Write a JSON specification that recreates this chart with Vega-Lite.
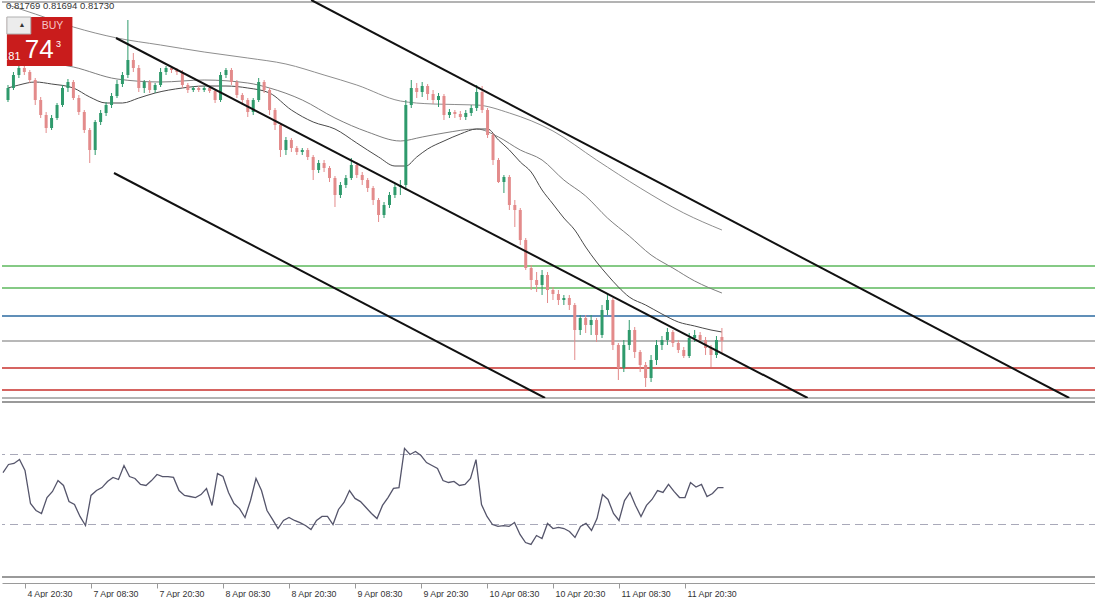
{
  "$schema": "https://vega.github.io/schema/vega-lite/v6.json",
  "padding": 0,
  "spacing": 2,
  "background": "white",
  "config": {"view": {"stroke": null}, "font": "Liberation Sans"},
  "datasets": {
    "candles": [
      {"t":-4,"o":0.82453,"h":0.82498,"l":0.82447,"c":0.82489},
      {"t":-3,"o":0.82489,"h":0.82537,"l":0.82483,"c":0.82528},
      {"t":-2,"o":0.82528,"h":0.82558,"l":0.82519,"c":0.82549},
      {"t":-1,"o":0.82549,"h":0.82555,"l":0.82528,"c":0.82537},
      {"t":0,"o":0.82537,"h":0.82543,"l":0.82504,"c":0.82513},
      {"t":1,"o":0.82513,"h":0.82519,"l":0.82438,"c":0.82453},
      {"t":2,"o":0.82453,"h":0.82462,"l":0.82399,"c":0.82408},
      {"t":3,"o":0.82408,"h":0.82417,"l":0.82354,"c":0.82369},
      {"t":4,"o":0.82369,"h":0.82408,"l":0.82363,"c":0.82399},
      {"t":5,"o":0.82399,"h":0.82444,"l":0.82393,"c":0.82438},
      {"t":6,"o":0.82438,"h":0.82498,"l":0.82432,"c":0.82489},
      {"t":7,"o":0.82489,"h":0.82516,"l":0.82477,"c":0.82507},
      {"t":8,"o":0.82507,"h":0.82513,"l":0.82453,"c":0.82459},
      {"t":9,"o":0.82459,"h":0.82468,"l":0.82408,"c":0.82417},
      {"t":10,"o":0.82417,"h":0.82423,"l":0.82354,"c":0.82363},
      {"t":11,"o":0.82363,"h":0.82369,"l":0.82264,"c":0.82303},
      {"t":12,"o":0.82303,"h":0.82393,"l":0.82288,"c":0.82387},
      {"t":13,"o":0.82387,"h":0.82423,"l":0.82378,"c":0.82414},
      {"t":14,"o":0.82414,"h":0.82447,"l":0.82405,"c":0.82438},
      {"t":15,"o":0.82438,"h":0.82474,"l":0.82429,"c":0.82465},
      {"t":16,"o":0.82465,"h":0.82513,"l":0.82459,"c":0.82501},
      {"t":17,"o":0.82501,"h":0.82537,"l":0.82492,"c":0.82528},
      {"t":18,"o":0.82528,"h":0.82693,"l":0.82519,"c":0.82573},
      {"t":19,"o":0.82573,"h":0.82594,"l":0.82537,"c":0.82549},
      {"t":20,"o":0.82549,"h":0.82558,"l":0.82477,"c":0.82489},
      {"t":21,"o":0.82489,"h":0.82513,"l":0.82474,"c":0.82507},
      {"t":22,"o":0.82507,"h":0.82513,"l":0.82474,"c":0.82483},
      {"t":23,"o":0.82483,"h":0.82504,"l":0.82474,"c":0.82498},
      {"t":24,"o":0.82498,"h":0.82549,"l":0.82492,"c":0.82537},
      {"t":25,"o":0.82537,"h":0.82555,"l":0.82528,"c":0.82549},
      {"t":26,"o":0.82549,"h":0.82555,"l":0.82534,"c":0.82543},
      {"t":27,"o":0.82543,"h":0.82549,"l":0.82528,"c":0.82537},
      {"t":28,"o":0.82537,"h":0.82543,"l":0.82489,"c":0.82498},
      {"t":29,"o":0.82498,"h":0.82504,"l":0.82474,"c":0.82483},
      {"t":30,"o":0.82483,"h":0.82495,"l":0.82477,"c":0.82489},
      {"t":31,"o":0.82489,"h":0.82495,"l":0.82477,"c":0.82483},
      {"t":32,"o":0.82483,"h":0.82495,"l":0.82477,"c":0.82489},
      {"t":33,"o":0.82489,"h":0.82495,"l":0.82474,"c":0.82480},
      {"t":34,"o":0.82480,"h":0.82486,"l":0.82444,"c":0.82453},
      {"t":35,"o":0.82453,"h":0.82537,"l":0.82447,"c":0.82528},
      {"t":36,"o":0.82528,"h":0.82549,"l":0.82519,"c":0.82543},
      {"t":37,"o":0.82543,"h":0.82549,"l":0.82498,"c":0.82507},
      {"t":38,"o":0.82507,"h":0.82513,"l":0.82459,"c":0.82468},
      {"t":39,"o":0.82468,"h":0.82474,"l":0.82438,"c":0.82453},
      {"t":40,"o":0.82453,"h":0.82459,"l":0.82402,"c":0.82417},
      {"t":41,"o":0.82417,"h":0.82459,"l":0.82408,"c":0.82453},
      {"t":42,"o":0.82453,"h":0.82519,"l":0.82447,"c":0.82507},
      {"t":43,"o":0.82507,"h":0.82513,"l":0.82474,"c":0.82483},
      {"t":44,"o":0.82483,"h":0.82489,"l":0.82408,"c":0.82423},
      {"t":45,"o":0.82423,"h":0.82429,"l":0.82363,"c":0.82378},
      {"t":46,"o":0.82378,"h":0.82384,"l":0.82282,"c":0.82303},
      {"t":47,"o":0.82303,"h":0.82342,"l":0.82288,"c":0.82333},
      {"t":48,"o":0.82333,"h":0.82339,"l":0.82297,"c":0.82309},
      {"t":49,"o":0.82309,"h":0.82315,"l":0.82288,"c":0.82297},
      {"t":50,"o":0.82297,"h":0.82309,"l":0.82288,"c":0.82303},
      {"t":51,"o":0.82303,"h":0.82309,"l":0.82273,"c":0.82282},
      {"t":52,"o":0.82282,"h":0.82288,"l":0.82213,"c":0.82243},
      {"t":53,"o":0.82243,"h":0.82273,"l":0.82234,"c":0.82264},
      {"t":54,"o":0.82264,"h":0.82273,"l":0.82237,"c":0.82249},
      {"t":55,"o":0.82249,"h":0.82255,"l":0.82207,"c":0.82219},
      {"t":56,"o":0.82219,"h":0.82225,"l":0.82132,"c":0.82168},
      {"t":57,"o":0.82168,"h":0.82207,"l":0.82159,"c":0.82198},
      {"t":58,"o":0.82198,"h":0.82228,"l":0.82189,"c":0.82219},
      {"t":59,"o":0.82219,"h":0.82279,"l":0.82213,"c":0.82258},
      {"t":60,"o":0.82258,"h":0.82267,"l":0.82219,"c":0.82228},
      {"t":61,"o":0.82228,"h":0.82237,"l":0.82198,"c":0.82213},
      {"t":62,"o":0.82213,"h":0.82219,"l":0.82177,"c":0.82189},
      {"t":63,"o":0.82189,"h":0.82195,"l":0.82138,"c":0.82153},
      {"t":64,"o":0.82153,"h":0.82159,"l":0.82087,"c":0.82108},
      {"t":65,"o":0.82108,"h":0.82147,"l":0.82099,"c":0.82138},
      {"t":66,"o":0.82138,"h":0.82177,"l":0.82129,"c":0.82168},
      {"t":67,"o":0.82168,"h":0.82201,"l":0.82159,"c":0.82192},
      {"t":68,"o":0.82192,"h":0.82213,"l":0.82168,"c":0.82198},
      {"t":69,"o":0.82198,"h":0.82453,"l":0.82183,"c":0.82438},
      {"t":70,"o":0.82438,"h":0.82513,"l":0.82429,"c":0.82489},
      {"t":71,"o":0.82489,"h":0.82504,"l":0.82459,"c":0.82477},
      {"t":72,"o":0.82477,"h":0.82507,"l":0.82462,"c":0.82495},
      {"t":73,"o":0.82495,"h":0.82501,"l":0.82453,"c":0.82471},
      {"t":74,"o":0.82471,"h":0.82483,"l":0.82441,"c":0.82453},
      {"t":75,"o":0.82453,"h":0.82474,"l":0.82432,"c":0.82465},
      {"t":76,"o":0.82465,"h":0.82471,"l":0.82393,"c":0.82408},
      {"t":77,"o":0.82408,"h":0.82426,"l":0.82399,"c":0.82417},
      {"t":78,"o":0.82417,"h":0.82423,"l":0.82399,"c":0.82411},
      {"t":79,"o":0.82411,"h":0.82420,"l":0.82393,"c":0.82402},
      {"t":80,"o":0.82402,"h":0.82423,"l":0.82393,"c":0.82414},
      {"t":81,"o":0.82414,"h":0.82438,"l":0.82405,"c":0.82429},
      {"t":82,"o":0.82429,"h":0.82498,"l":0.82420,"c":0.82477},
      {"t":83,"o":0.82477,"h":0.82495,"l":0.82414,"c":0.82423},
      {"t":84,"o":0.82423,"h":0.82429,"l":0.82339,"c":0.82348},
      {"t":85,"o":0.82348,"h":0.82354,"l":0.82258,"c":0.82273},
      {"t":86,"o":0.82273,"h":0.82279,"l":0.82204,"c":0.82207},
      {"t":87,"o":0.82207,"h":0.82228,"l":0.82174,"c":0.82222},
      {"t":88,"o":0.82222,"h":0.82228,"l":0.82123,"c":0.82138},
      {"t":89,"o":0.82138,"h":0.82153,"l":0.82072,"c":0.82123},
      {"t":90,"o":0.82123,"h":0.82129,"l":0.82018,"c":0.82033},
      {"t":91,"o":0.82033,"h":0.82039,"l":0.81943,"c":0.81949},
      {"t":92,"o":0.81949,"h":0.81958,"l":0.81883,"c":0.81913},
      {"t":93,"o":0.81913,"h":0.81937,"l":0.81877,"c":0.81898},
      {"t":94,"o":0.81898,"h":0.81943,"l":0.81868,"c":0.81928},
      {"t":95,"o":0.81928,"h":0.81937,"l":0.81844,"c":0.81883},
      {"t":96,"o":0.81883,"h":0.81892,"l":0.81853,"c":0.81871},
      {"t":97,"o":0.81871,"h":0.81883,"l":0.81838,"c":0.81853},
      {"t":98,"o":0.81853,"h":0.81868,"l":0.81838,"c":0.81859},
      {"t":99,"o":0.81859,"h":0.81868,"l":0.81823,"c":0.81838},
      {"t":100,"o":0.81838,"h":0.81844,"l":0.81673,"c":0.81763},
      {"t":101,"o":0.81763,"h":0.81808,"l":0.81748,"c":0.81799},
      {"t":102,"o":0.81799,"h":0.81808,"l":0.81754,"c":0.81778},
      {"t":103,"o":0.81778,"h":0.81808,"l":0.81748,"c":0.81793},
      {"t":104,"o":0.81793,"h":0.81799,"l":0.81727,"c":0.81748},
      {"t":105,"o":0.81748,"h":0.81838,"l":0.81739,"c":0.81823},
      {"t":106,"o":0.81823,"h":0.81874,"l":0.81808,"c":0.81853},
      {"t":107,"o":0.81853,"h":0.81859,"l":0.81703,"c":0.81718},
      {"t":108,"o":0.81718,"h":0.81724,"l":0.81613,"c":0.81649},
      {"t":109,"o":0.81649,"h":0.81733,"l":0.81637,"c":0.81718},
      {"t":110,"o":0.81718,"h":0.81793,"l":0.81703,"c":0.81763},
      {"t":111,"o":0.81763,"h":0.81772,"l":0.81679,"c":0.81697},
      {"t":112,"o":0.81697,"h":0.81703,"l":0.81637,"c":0.81658},
      {"t":113,"o":0.81658,"h":0.81667,"l":0.81592,"c":0.81619},
      {"t":114,"o":0.81619,"h":0.81688,"l":0.81607,"c":0.81673},
      {"t":115,"o":0.81673,"h":0.81733,"l":0.81658,"c":0.81718},
      {"t":116,"o":0.81718,"h":0.81745,"l":0.81703,"c":0.81733},
      {"t":117,"o":0.81733,"h":0.81769,"l":0.81718,"c":0.81757},
      {"t":118,"o":0.81757,"h":0.81763,"l":0.81712,"c":0.81724},
      {"t":119,"o":0.81724,"h":0.81733,"l":0.81694,"c":0.81703},
      {"t":120,"o":0.81703,"h":0.81712,"l":0.81679,"c":0.81685},
      {"t":121,"o":0.81685,"h":0.81754,"l":0.81679,"c":0.81739},
      {"t":122,"o":0.81739,"h":0.81763,"l":0.81727,"c":0.81748},
      {"t":123,"o":0.81748,"h":0.81757,"l":0.81724,"c":0.81733},
      {"t":124,"o":0.81733,"h":0.81742,"l":0.81688,"c":0.81709},
      {"t":125,"o":0.81709,"h":0.81718,"l":0.81652,"c":0.81688},
      {"t":126,"o":0.81688,"h":0.81745,"l":0.81679,"c":0.81733},
      {"t":127,"o":0.81742,"h":0.81769,"l":0.81694,"c":0.81730}
    ],
    "ma": [
      {"ma":"slow","t":-4,"p":0.82738},{"ma":"slow","t":1,"p":0.82711},{"ma":"slow","t":8,"p":0.82672},{"ma":"slow","t":16,"p":0.82639},{"ma":"slow","t":24,"p":0.82618},{"ma":"slow","t":32,"p":0.82597},{"ma":"slow","t":40,"p":0.82579},{"ma":"slow","t":47,"p":0.82561},{"ma":"slow","t":54,"p":0.82528},{"ma":"slow","t":60,"p":0.82498},{"ma":"slow","t":68,"p":0.82450},{"ma":"slow","t":74,"p":0.82441},{"ma":"slow","t":82,"p":0.82438},{"ma":"slow","t":88,"p":0.82414},{"ma":"slow","t":96,"p":0.82360},{"ma":"slow","t":104,"p":0.82273},{"ma":"slow","t":112,"p":0.82189},{"ma":"slow","t":120,"p":0.82114},{"ma":"slow","t":127,"p":0.82063},
      {"ma":"mid","t":-4,"p":0.82579},{"ma":"mid","t":8,"p":0.82552},{"ma":"mid","t":16,"p":0.82516},{"ma":"mid","t":24,"p":0.82507},{"ma":"mid","t":32,"p":0.82513},{"ma":"mid","t":40,"p":0.82504},{"ma":"mid","t":44,"p":0.82489},{"ma":"mid","t":50,"p":0.82453},{"ma":"mid","t":56,"p":0.82399},{"ma":"mid","t":62,"p":0.82357},{"ma":"mid","t":68,"p":0.82330},{"ma":"mid","t":72,"p":0.82342},{"ma":"mid","t":76,"p":0.82354},{"ma":"mid","t":82,"p":0.82366},{"ma":"mid","t":86,"p":0.82342},{"ma":"mid","t":90,"p":0.82303},{"ma":"mid","t":94,"p":0.82273},{"ma":"mid","t":98,"p":0.82213},{"ma":"mid","t":102,"p":0.82165},{"ma":"mid","t":106,"p":0.82099},{"ma":"mid","t":110,"p":0.82045},{"ma":"mid","t":114,"p":0.81988},{"ma":"mid","t":118,"p":0.81949},{"ma":"mid","t":122,"p":0.81910},{"ma":"mid","t":127,"p":0.81874},
      {"ma":"fast","t":-4,"p":0.82489},{"ma":"fast","t":-2,"p":0.82498},{"ma":"fast","t":1,"p":0.82507},{"ma":"fast","t":4,"p":0.82501},{"ma":"fast","t":8,"p":0.82489},{"ma":"fast","t":11,"p":0.82462},{"ma":"fast","t":14,"p":0.82444},{"ma":"fast","t":17,"p":0.82444},{"ma":"fast","t":20,"p":0.82459},{"ma":"fast","t":23,"p":0.82474},{"ma":"fast","t":28,"p":0.82489},{"ma":"fast","t":32,"p":0.82495},{"ma":"fast","t":36,"p":0.82495},{"ma":"fast","t":40,"p":0.82489},{"ma":"fast","t":44,"p":0.82474},{"ma":"fast","t":48,"p":0.82423},{"ma":"fast","t":52,"p":0.82387},{"ma":"fast","t":56,"p":0.82366},{"ma":"fast","t":60,"p":0.82324},{"ma":"fast","t":64,"p":0.82282},{"ma":"fast","t":67,"p":0.82255},{"ma":"fast","t":69,"p":0.82255},{"ma":"fast","t":71,"p":0.82282},{"ma":"fast","t":73,"p":0.82306},{"ma":"fast","t":76,"p":0.82330},{"ma":"fast","t":79,"p":0.82351},{"ma":"fast","t":82,"p":0.82366},{"ma":"fast","t":84,"p":0.82366},{"ma":"fast","t":86,"p":0.82333},{"ma":"fast","t":88,"p":0.82303},{"ma":"fast","t":90,"p":0.82267},{"ma":"fast","t":92,"p":0.82237},{"ma":"fast","t":94,"p":0.82183},{"ma":"fast","t":96,"p":0.82141},{"ma":"fast","t":98,"p":0.82099},{"ma":"fast","t":100,"p":0.82063},{"ma":"fast","t":102,"p":0.82012},{"ma":"fast","t":104,"p":0.81967},{"ma":"fast","t":106,"p":0.81928},{"ma":"fast","t":108,"p":0.81892},{"ma":"fast","t":110,"p":0.81862},{"ma":"fast","t":113,"p":0.81838},{"ma":"fast","t":116,"p":0.81811},{"ma":"fast","t":119,"p":0.81787},{"ma":"fast","t":122,"p":0.81775},{"ma":"fast","t":125,"p":0.81763},{"ma":"fast","t":127,"p":0.81757}
    ],
    "channels": [
      {"line":"upper","t":51.64,"p":0.82753},{"line":"upper","t":190.73,"p":0.81559},
      {"line":"middle","t":15.82,"p":0.82639},{"line":"middle","t":142.73,"p":0.81559},
      {"line":"lower","t":15.45,"p":0.82234},{"line":"lower","t":94.55,"p":0.81559}
    ],
    "levels": [
      {"lvl":"r2","p":0.81955},{"lvl":"r1","p":0.81889},{"lvl":"pivot","p":0.81805},{"lvl":"bid","p":0.81730},{"lvl":"s1","p":0.81649},{"lvl":"s2","p":0.81583}
    ],
    "rsi": [
      {"t":-4,"v":59.7},{"t":-3,"v":64.3},{"t":-2,"v":64.9},{"t":-1,"v":67.1},{"t":0,"v":60.9},{"t":1,"v":42.0},{"t":2,"v":38.0},{"t":3,"v":36.3},{"t":4,"v":45.4},{"t":5,"v":48.9},{"t":6,"v":55.1},{"t":7,"v":52.3},{"t":8,"v":43.1},{"t":9,"v":41.4},{"t":10,"v":34.6},{"t":11,"v":29.4},{"t":12,"v":46.6},{"t":13,"v":49.4},{"t":14,"v":51.1},{"t":15,"v":54.6},{"t":16,"v":56.9},{"t":17,"v":55.7},{"t":18,"v":63.7},{"t":19,"v":57.4},{"t":20,"v":56.3},{"t":21,"v":52.9},{"t":22,"v":52.3},{"t":23,"v":55.1},{"t":24,"v":58.6},{"t":25,"v":57.4},{"t":26,"v":57.4},{"t":27,"v":56.9},{"t":28,"v":49.4},{"t":29,"v":46.6},{"t":30,"v":46.0},{"t":31,"v":45.4},{"t":32,"v":47.1},{"t":33,"v":50.6},{"t":34,"v":40.9},{"t":35,"v":59.1},{"t":36,"v":57.4},{"t":37,"v":48.3},{"t":38,"v":42.0},{"t":39,"v":39.1},{"t":40,"v":34.0},{"t":41,"v":43.7},{"t":42,"v":56.3},{"t":43,"v":49.4},{"t":44,"v":38.0},{"t":45,"v":32.9},{"t":46,"v":27.7},{"t":47,"v":32.3},{"t":48,"v":34.0},{"t":49,"v":32.3},{"t":50,"v":31.1},{"t":51,"v":29.4},{"t":52,"v":27.1},{"t":53,"v":32.3},{"t":54,"v":34.6},{"t":55,"v":34.6},{"t":56,"v":30.0},{"t":57,"v":38.6},{"t":58,"v":42.6},{"t":59,"v":49.4},{"t":60,"v":44.9},{"t":61,"v":43.1},{"t":62,"v":39.7},{"t":63,"v":36.3},{"t":64,"v":33.4},{"t":65,"v":40.9},{"t":66,"v":45.4},{"t":67,"v":50.6},{"t":68,"v":51.1},{"t":69,"v":73.5},{"t":70,"v":70.0},{"t":71,"v":71.7},{"t":72,"v":69.4},{"t":73,"v":65.4},{"t":74,"v":63.7},{"t":75,"v":62.0},{"t":76,"v":55.1},{"t":77,"v":54.0},{"t":78,"v":54.6},{"t":79,"v":52.3},{"t":80,"v":52.9},{"t":81,"v":56.3},{"t":82,"v":67.1},{"t":83,"v":41.4},{"t":84,"v":34.6},{"t":85,"v":30.0},{"t":86,"v":28.9},{"t":87,"v":29.4},{"t":88,"v":28.9},{"t":89,"v":31.1},{"t":90,"v":24.3},{"t":91,"v":19.7},{"t":92,"v":18.6},{"t":93,"v":23.7},{"t":94,"v":22.0},{"t":95,"v":30.6},{"t":96,"v":27.7},{"t":97,"v":28.3},{"t":98,"v":27.7},{"t":99,"v":26.0},{"t":100,"v":22.6},{"t":101,"v":28.9},{"t":102,"v":30.6},{"t":103,"v":26.6},{"t":104,"v":33.4},{"t":105,"v":47.1},{"t":106,"v":44.3},{"t":107,"v":36.3},{"t":108,"v":32.3},{"t":109,"v":43.7},{"t":110,"v":48.3},{"t":111,"v":40.9},{"t":112,"v":34.6},{"t":113,"v":40.9},{"t":114,"v":44.3},{"t":115,"v":49.4},{"t":116,"v":48.3},{"t":117,"v":52.9},{"t":118,"v":48.9},{"t":119,"v":45.4},{"t":120,"v":45.4},{"t":121,"v":54.0},{"t":122,"v":51.4},{"t":123,"v":52.9},{"t":124,"v":46.0},{"t":125,"v":47.7},{"t":126,"v":51.1},{"t":127,"v":51.1}
    ]
  },
  "vconcat": [
    {
      "width": 1095,
      "height": 398,
      "resolve": {"scale": {"color": "independent"}},
      "layer": [
        {
          "data": {"values": [{"edge": "top", "p": 0.82747}, {"edge": "bottom", "p": 0.81559}]},
          "mark": {"type": "rule", "color": "#9a9a9a", "strokeWidth": 1.5},
          "encoding": {
            "y": {"field": "p", "type": "quantitative", "scale": {"domain": [0.81559, 0.82753], "nice": false, "zero": false}, "axis": null}
          }
        },
        {
          "data": {"name": "levels"},
          "mark": {"type": "rule", "strokeWidth": 1.3},
          "encoding": {
            "y": {"field": "p", "type": "quantitative", "scale": {"domain": [0.81559, 0.82753], "nice": false, "zero": false}, "axis": null},
            "color": {"field": "lvl", "type": "nominal", "legend": null,
              "scale": {"domain": ["r2", "r1", "pivot", "bid", "s1", "s2"], "range": ["#5cb85c", "#5cb85c", "#2b6aa0", "#a0a0a0", "#c9302c", "#c9302c"]}}
          }
        },
        {
          "data": {"name": "ma"},
          "mark": {"type": "line", "strokeWidth": 1, "interpolate": "monotone"},
          "encoding": {
            "x": {"field": "t", "type": "quantitative", "scale": {"domain": [-4.1818, 194.909], "nice": false, "zero": false}, "axis": null},
            "y": {"field": "p", "type": "quantitative", "scale": {"domain": [0.81559, 0.82753], "nice": false, "zero": false}, "axis": null},
            "detail": {"field": "ma"},
            "color": {"field": "ma", "type": "nominal", "legend": null,
              "scale": {"domain": ["slow", "mid", "fast"], "range": ["#8e8e8e", "#7e7e7e", "#4a4a4a"]}}
          }
        },
        {
          "data": {"name": "candles"},
          "mark": {"type": "rule", "strokeWidth": 1},
          "encoding": {
            "x": {"field": "t", "type": "quantitative", "scale": {"domain": [-4.1818, 194.909], "nice": false, "zero": false}, "axis": null},
            "y": {"field": "l", "type": "quantitative", "scale": {"domain": [0.81559, 0.82753], "nice": false, "zero": false}, "axis": null},
            "y2": {"field": "h"},
            "color": {"condition": {"test": "datum.c >= datum.o", "value": "#2f9a6c"}, "value": "#e38b8b"}
          }
        },
        {
          "data": {"name": "candles"},
          "mark": {"type": "bar", "size": 3},
          "encoding": {
            "x": {"field": "t", "type": "quantitative", "scale": {"domain": [-4.1818, 194.909], "nice": false, "zero": false}, "axis": null},
            "y": {"field": "o", "type": "quantitative", "scale": {"domain": [0.81559, 0.82753], "nice": false, "zero": false}, "axis": null},
            "y2": {"field": "c"},
            "color": {"condition": {"test": "datum.c >= datum.o", "value": "#2f9a6c"}, "value": "#e38b8b"}
          }
        },
        {
          "data": {"name": "channels"},
          "mark": {"type": "line", "color": "#111111", "strokeWidth": 2, "clip": true},
          "encoding": {
            "x": {"field": "t", "type": "quantitative", "scale": {"domain": [-4.1818, 194.909], "nice": false, "zero": false}, "axis": null},
            "y": {"field": "p", "type": "quantitative", "scale": {"domain": [0.81559, 0.82753], "nice": false, "zero": false}, "axis": null},
            "detail": {"field": "line"}
          }
        },
        {
          "data": {"values": [{"t": -4.2, "t2": 7.82, "p": 0.82555, "p2": 0.82702}]},
          "mark": {"type": "rect", "color": "#c91c1c"},
          "encoding": {
            "x": {"field": "t", "type": "quantitative", "scale": {"domain": [-4.1818, 194.909], "nice": false, "zero": false}, "axis": null},
            "x2": {"field": "t2"},
            "y": {"field": "p", "type": "quantitative", "scale": {"domain": [0.81559, 0.82753], "nice": false, "zero": false}, "axis": null},
            "y2": {"field": "p2"}
          }
        },
        {
          "data": {"values": [{"t": -4.2, "t2": 0.18, "p": 0.82651, "p2": 0.82702}]},
          "mark": {"type": "rect", "fill": "#ececec", "stroke": "#b0b0b0", "strokeWidth": 1},
          "encoding": {
            "x": {"field": "t", "type": "quantitative", "scale": {"domain": [-4.1818, 194.909], "nice": false, "zero": false}, "axis": null},
            "x2": {"field": "t2"},
            "y": {"field": "p", "type": "quantitative", "scale": {"domain": [0.81559, 0.82753], "nice": false, "zero": false}, "axis": null},
            "y2": {"field": "p2"}
          }
        },
        {
          "data": {"values": [{"t": -4.36, "p": 0.82735, "label": "0.81769 0.81694 0.81730"}]},
          "mark": {"type": "text", "align": "left", "baseline": "middle", "fontSize": 9.5, "color": "#333333"},
          "encoding": {
            "x": {"field": "t", "type": "quantitative", "scale": {"domain": [-4.1818, 194.909], "nice": false, "zero": false}, "axis": null},
            "y": {"field": "p", "type": "quantitative", "scale": {"domain": [0.81559, 0.82753], "nice": false, "zero": false}, "axis": null},
            "text": {"field": "label"}
          }
        },
        {
          "data": {"values": [{"t": 4.18, "p": 0.82675, "label": "BUY"}]},
          "mark": {"type": "text", "align": "center", "baseline": "middle", "fontSize": 10.5, "color": "#f6c6c6"},
          "encoding": {
            "x": {"field": "t", "type": "quantitative", "scale": {"domain": [-4.1818, 194.909], "nice": false, "zero": false}, "axis": null},
            "y": {"field": "p", "type": "quantitative", "scale": {"domain": [0.81559, 0.82753], "nice": false, "zero": false}, "axis": null},
            "text": {"field": "label"}
          }
        },
        {
          "data": {"values": [{"t": 1.73, "p": 0.82603, "label": "74"}]},
          "mark": {"type": "text", "align": "center", "baseline": "middle", "fontSize": 26, "color": "#ffffff"},
          "encoding": {
            "x": {"field": "t", "type": "quantitative", "scale": {"domain": [-4.1818, 194.909], "nice": false, "zero": false}, "axis": null},
            "y": {"field": "p", "type": "quantitative", "scale": {"domain": [0.81559, 0.82753], "nice": false, "zero": false}, "axis": null},
            "text": {"field": "label"}
          }
        },
        {
          "data": {"values": [{"t": 5.27, "p": 0.82621, "label": "3"}]},
          "mark": {"type": "text", "align": "center", "baseline": "middle", "fontSize": 9, "color": "#ffffff"},
          "encoding": {
            "x": {"field": "t", "type": "quantitative", "scale": {"domain": [-4.1818, 194.909], "nice": false, "zero": false}, "axis": null},
            "y": {"field": "p", "type": "quantitative", "scale": {"domain": [0.81559, 0.82753], "nice": false, "zero": false}, "axis": null},
            "text": {"field": "label"}
          }
        },
        {
          "data": {"values": [{"t": -3.09, "p": 0.82582, "label": ".81"}]},
          "mark": {"type": "text", "align": "center", "baseline": "middle", "fontSize": 11, "color": "#ffffff"},
          "encoding": {
            "x": {"field": "t", "type": "quantitative", "scale": {"domain": [-4.1818, 194.909], "nice": false, "zero": false}, "axis": null},
            "y": {"field": "p", "type": "quantitative", "scale": {"domain": [0.81559, 0.82753], "nice": false, "zero": false}, "axis": null},
            "text": {"field": "label"}
          }
        },
        {
          "data": {"values": [{"t": -1.45, "p": 0.82678, "label": "▲"}]},
          "mark": {"type": "text", "align": "center", "baseline": "middle", "fontSize": 7, "color": "#333333"},
          "encoding": {
            "x": {"field": "t", "type": "quantitative", "scale": {"domain": [-4.1818, 194.909], "nice": false, "zero": false}, "axis": null},
            "y": {"field": "p", "type": "quantitative", "scale": {"domain": [0.81559, 0.82753], "nice": false, "zero": false}, "axis": null},
            "text": {"field": "label"}
          }
        }
      ]
    },
    {
      "width": 1095,
      "height": 175,
      "layer": [
        {
          "data": {"values": [{"edge": "top", "v": 100}, {"edge": "bottom", "v": 0}]},
          "mark": {"type": "rule", "color": "#9a9a9a", "strokeWidth": 2},
          "encoding": {
            "y": {"field": "v", "type": "quantitative", "scale": {"domain": [0, 100], "nice": false, "zero": false}, "axis": null}
          }
        },
        {
          "data": {"values": [{"level": 70}, {"level": 30}]},
          "mark": {"type": "rule", "color": "#a9a9b9", "strokeWidth": 1, "strokeDash": [8, 5]},
          "encoding": {
            "y": {"field": "level", "type": "quantitative", "scale": {"domain": [0, 100], "nice": false, "zero": false}, "axis": null}
          }
        },
        {
          "data": {"name": "rsi"},
          "mark": {"type": "line", "color": "#55556b", "strokeWidth": 1.3},
          "encoding": {
            "x": {"field": "t", "type": "quantitative",
              "scale": {"domain": [-4.1818, 194.909], "nice": false, "zero": false},
              "axis": {
                "orient": "bottom", "offset": 6, "title": null, "grid": false,
                "values": [0, 12, 24, 36, 48, 60, 72, 84, 96, 108, 120],
                "labelExpr": "['4 Apr 20:30','7 Apr 08:30','7 Apr 20:30','8 Apr 08:30','8 Apr 20:30','9 Apr 08:30','9 Apr 20:30','10 Apr 08:30','10 Apr 20:30','11 Apr 08:30','11 Apr 20:30'][round(datum.value/12)]",
                "labelAlign": "left", "labelBaseline": "top", "labelPadding": 1, "labelOffset": 2,
                "labelFontSize": 8.8, "labelColor": "#333333", "labelFont": "Liberation Sans",
                "labelOverlap": false, "labelFlush": false, "labelBound": false,
                "domainColor": "#9a9a9a", "tickColor": "#9a9a9a", "tickSize": 5
              }
            },
            "y": {"field": "v", "type": "quantitative", "scale": {"domain": [0, 100], "nice": false, "zero": false}, "axis": null}
          }
        }
      ]
    }
  ]
}
